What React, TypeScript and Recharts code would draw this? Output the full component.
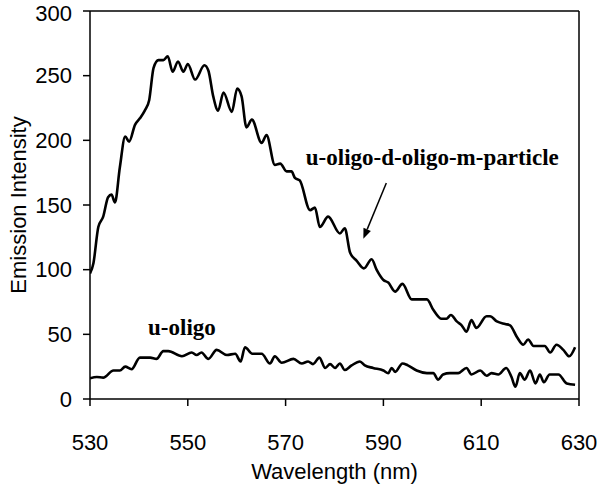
import { LineChart, Line, XAxis, YAxis, ReferenceLine, ReferenceDot } from 'recharts';

// upper curve: u-oligo-d-oligo-m-particle
const upperWavelength = [
  530, 530.7, 531.7, 532.7, 533.7, 534.4, 535.1, 536.1, 537.2, 538, 539.2, 540.2, 541.2, 542.1, 543, 544, 545,
  545.9, 546.9, 548, 549.1, 550, 551.5, 553.4, 554.2, 555.2, 556.2, 557.3, 559, 560.1, 561, 562, 563.1, 565.1,
  566.1, 567.8, 568.9, 570.2, 571.2, 571.9, 572.9, 575, 576, 577, 578.7, 581.1, 582.1, 583.2, 584.5, 586, 587.6,
  588.6, 590, 591, 592.4, 593.9, 595.8, 598.9, 600.2, 601.9, 602.9, 603.8, 605, 606, 607, 608, 609, 611.1, 611.8,
  613.2, 614.9, 615.9, 617.3, 618.6, 619.6, 620.7, 623, 624.1, 625.4, 626.8, 628, 629.2
];
const upperIntensity = [
  97, 105, 133, 141, 156, 158, 152, 179, 203, 199, 212, 217, 223, 231, 256, 262, 262,
  265, 253, 261, 253, 259, 247, 258, 254, 234, 223, 237, 222, 240, 234, 210, 216, 198,
  204, 181, 182, 176, 176, 171, 169, 146, 148, 133, 141, 128, 132, 113, 107, 101, 108,
  100, 92, 90, 83, 89, 77, 77, 69, 62, 62, 65, 60, 57, 52, 61, 55, 64, 64,
  60, 58, 57, 48, 42, 46, 41, 41, 36, 42, 38, 33, 40
];

// lower curve: u-oligo
const lowerWavelength = [
  530, 531.4, 532.7, 534.8, 536.1, 537.2, 538.5, 540.2, 542.3, 543.6, 545, 546, 548.8, 550.8, 551.8, 552.8, 554.2,
  555.9, 558, 559.7, 560.8, 561.7, 563.2, 565.1, 566.8, 567.8, 569.2, 571.6, 573.3, 574.6, 575.6, 576.9, 578.1,
  579.1, 580.1, 581.1, 582.1, 583.5, 585.2, 586.2, 587.9, 590, 591, 591.7, 592.4, 593.9, 595, 596.8, 598.9, 600.2,
  601.2, 602.2, 603.6, 605.3, 607, 608, 609.8, 611.1, 612.1, 613.5, 615.1, 616.2, 617, 617.9, 618.9, 620, 621.1,
  622, 622.8, 624, 625.8, 627.5, 629.2
];
const lowerIntensity = [
  16, 17, 16.5, 22, 22, 25, 23, 32, 32, 31, 37, 37, 33, 36, 34, 36, 31,
  38, 34, 35, 29, 40, 35, 35, 27.5, 33, 28, 31, 27.5, 29, 27, 32, 24,
  27, 24, 27.5, 22.4, 26, 29, 26, 24, 22, 20, 24, 21, 27.5, 26, 22, 20, 20,
  15, 19, 20, 20, 24, 19, 22, 18, 20, 19, 24, 17, 9.5, 20, 15, 22, 12,
  19, 13, 19, 19, 12, 11
];

const xTicks = [530, 550, 570, 590, 610, 630];
const yTicks = [0, 50, 100, 150, 200, 250, 300];

const upperData = upperWavelength.map((w, i) => ({ w, v: upperIntensity[i] }));
const lowerData = lowerWavelength.map((w, i) => ({ w, v: lowerIntensity[i] }));

const sans = '"Liberation Sans", Arial, sans-serif';
const serif = '"Liberation Serif", "Times New Roman", serif';

const Arrow = (props: any) => {
  const { x1, y1, x2, y2 } = props;
  const a = Math.atan2(y2 - y1, x2 - x1);
  const len = 10;
  const w = 4;
  const bx = x2 - len * Math.cos(a);
  const by = y2 - len * Math.sin(a);
  const px = -Math.sin(a) * w;
  const py = Math.cos(a) * w;
  return (
    <g>
      <line x1={x1} y1={y1} x2={bx} y2={by} stroke="#000" strokeWidth={1.5} />
      <polygon points={`${x2},${y2} ${bx + px},${by + py} ${bx - px},${by - py}`} fill="#000" />
    </g>
  );
};

export default function App() {
  return (
    <div style={{ position: 'absolute', left: 0, top: 0, width: 600, height: 486, background: '#fff' }}>
      <LineChart width={600} height={486} margin={{ top: 11, right: 21, left: 0, bottom: 0 }}>
        <XAxis
          type="number"
          dataKey="w"
          domain={[530, 630]}
          ticks={xTicks}
          allowDataOverflow
          height={87}
          tickSize={7}
          tickMargin={28}
          tick={{ fill: '#000', fontSize: 22, fontFamily: sans }}
          axisLine={{ stroke: '#000', strokeWidth: 1.5 }}
          tickLine={{ stroke: '#000', strokeWidth: 1.5 }}
          label={{ value: 'Wavelength (nm)', position: 'insideBottom', offset: 7, fill: '#000', fontSize: 22, fontFamily: sans }}
        />
        <YAxis
          type="number"
          domain={[0, 300]}
          ticks={yTicks}
          width={90}
          tickSize={7}
          tickMargin={11}
          tick={{ fill: '#000', fontSize: 22, fontFamily: sans }}
          axisLine={{ stroke: '#000', strokeWidth: 1.5 }}
          tickLine={{ stroke: '#000', strokeWidth: 1.5 }}
          label={{
            content: () => (
              <text x={18} y={205} transform="rotate(-90 18 205)" textAnchor="middle" dominantBaseline="central"
                fill="#000" fontSize={22} fontFamily={sans}>
                Emission Intensity
              </text>
            )
          }}
        />
        <ReferenceLine y={300} stroke="#000" strokeWidth={1.5} />
        <ReferenceLine x={630} stroke="#000" strokeWidth={1.5} />
        <Line data={upperData} dataKey="v" type="monotone" stroke="#000" strokeWidth={2.6} dot={false} isAnimationActive={false} />
        <Line data={lowerData} dataKey="v" type="monotone" stroke="#000" strokeWidth={2.6} dot={false} isAnimationActive={false} />
        <ReferenceLine segment={[{ x: 590.6, y: 167 }, { x: 585.9, y: 124 }]} shape={Arrow} />
        <ReferenceDot x={600} y={187} r={0} fill="none" stroke="none"
          label={{ value: 'u-oligo-d-oligo-m-particle', position: 'center', fill: '#000', fontSize: 23, fontWeight: 'bold', fontFamily: serif }} />
        <ReferenceDot x={548.8} y={56} r={0} fill="none" stroke="none"
          label={{ value: 'u-oligo', position: 'center', fill: '#000', fontSize: 23, fontWeight: 'bold', fontFamily: serif }} />
      </LineChart>
    </div>
  );
}
